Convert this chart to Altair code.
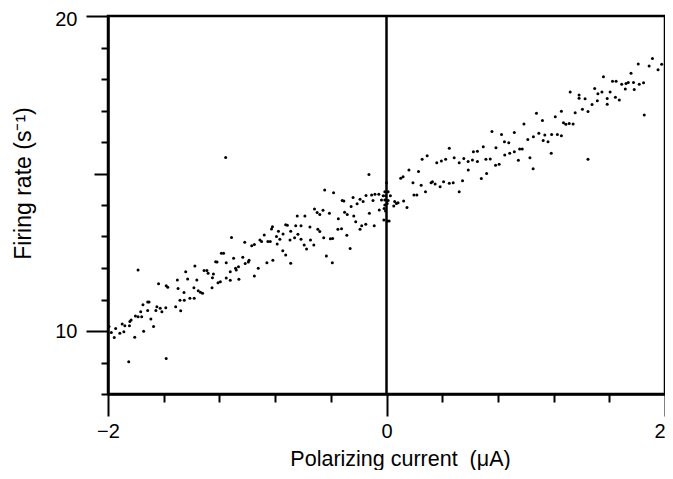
import altair as alt
import pandas as pd

# Polarizing current (uA) and firing rate (1/s)
current = [
    -1.376, -1.310, -1.290, -1.281, -1.250, -1.243, -1.784, -1.442, -1.637, -1.582,
    -1.571, -1.502, -1.428, -1.362, -1.497, -1.383, -1.454, -1.352, -1.336, -1.321,
    -1.253, -1.412, -1.381, -1.483, -1.452, -1.715, -1.705, -1.749, -1.649, -1.656,
    -1.625, -1.613, -1.585, -1.514, -1.478, -1.765, -1.715, -1.803, -1.784, -1.758,
    -1.692, -1.834, -1.843, -1.898, -1.879, -1.846, -1.673, -1.993, -1.945, -1.886,
    -1.915, -1.976, -1.955, -1.808, -1.744, -1.851, -1.582,
    -0.641, -0.586, -0.724, -0.712, -0.652, -0.614, -0.819, -0.826, -0.776, -0.688,
    -0.743, -0.636, -0.878, -0.790, -0.766, -0.660, -0.614, -0.693, -1.113, -0.909,
    -0.897, -0.852, -0.835, -0.785, -0.591, -1.018, -0.968, -0.949, -0.745, -0.724,
    -0.574, -1.186, -1.170, -1.032, -1.098, -1.151, -1.227, -1.217, -0.987, -0.992,
    -1.015, -0.688, -0.816, -0.859, -1.063, -1.084, -1.079, -1.122, -0.921, -0.949,
    -1.151, -1.122, -1.060, -1.193, -1.210,
    -0.126, -0.444, -0.380, -0.318, -0.306, -0.240, -0.190, -0.147, -0.107, -0.083,
    -0.055, -0.168, -0.211, -0.254, -0.097, -0.517, -0.456, -0.498, -0.479, -0.410,
    -0.301, -0.282, -0.123, -0.235, -0.052, -0.346, -0.221, -0.149, -0.178, -0.190,
    -0.088, -0.550, -0.493, -0.479, -0.349, -0.323, -0.285, -0.451, -0.403, -0.387,
    -0.546, -0.522, -0.261, -0.432, -0.389, -1.155,
    0.000, -0.012, 0.012, -0.024, -0.007, 0.028, -0.036, -0.012, 0.012, -0.012,
    -0.017, -0.007, -0.019, 0.005, 0.019, 0.005, 0.059, 0.071, 0.083, 0.052,
    0.123, 0.147, 0.102, 0.119, 0.161, 0.190, 0.197, 0.218, 0.230, 0.249,
    0.256, 0.280, 0.292, 0.320, 0.330, 0.349, 0.361, 0.385, 0.394, 0.410,
    0.425, 0.451, 0.451, 0.479, 0.486, 0.522, 0.522, 0.546, 0.555,
    0.586, 0.587, 0.617, 0.624, 0.653, 0.653, 0.681, 0.695, 0.714, 0.719,
    0.745, 0.757, 0.783, 0.786, 0.809, 0.826, 0.847, 0.849, 0.878, 0.885,
    0.918, 0.918, 0.947, 0.956, 0.975, 1.030, 1.053, 1.183,
    1.910, 1.808, 1.886, 1.976, 1.950, 1.558, 1.756, 1.623, 1.649, 1.689,
    1.720, 1.736, 1.774, 1.815, 1.846, 1.715, 1.779, 1.319, 1.495, 1.518,
    1.547, 1.606, 1.383, 1.383, 1.426, 1.514, 1.585, 1.644, 1.672, 1.585,
    1.476, 1.447, 1.407, 1.355, 1.256, 1.212, 1.851, 1.077, 1.120, 1.271,
    1.288, 1.312, 1.340, 0.987, 1.094, 1.137, 1.160, 1.125, 1.186, 1.227,
    1.256, 1.055, 1.015, 1.447,
]
rate = [
    12.06, 11.92, 11.92, 11.83, 11.69, 11.81, 11.94, 11.88, 11.50, 11.44,
    11.39, 11.62, 11.65, 11.62, 11.35, 11.37, 11.22, 11.28, 11.23, 11.20,
    11.37, 11.04, 11.04, 10.98, 10.98, 10.92, 10.92, 10.83, 10.77, 10.65,
    10.72, 10.61, 10.74, 10.77, 10.64, 10.61, 10.65, 10.48, 10.45, 10.45,
    10.38, 10.35, 10.30, 10.22, 10.17, 10.17, 10.14, 10.14, 10.08, 9.98,
    9.93, 9.95, 9.79, 9.80, 9.99, 9.02, 9.13,
    13.65, 13.65, 13.37, 13.36, 13.34, 13.34, 13.31, 13.24, 13.17, 13.17,
    13.08, 13.07, 13.05, 13.00, 12.91, 12.96, 12.91, 12.89, 12.97, 12.89,
    12.84, 12.84, 12.84, 12.76, 12.73, 12.82, 12.71, 12.75, 12.55, 12.41,
    12.60, 12.47, 12.47, 12.34, 12.31, 12.17, 12.20, 12.19, 12.25, 12.19,
    12.14, 12.15, 12.25, 12.17, 12.04, 11.99, 11.94, 11.88, 11.99, 11.75,
    11.68, 11.61, 11.64, 11.56, 11.53,
    14.97, 14.48, 14.39, 14.14, 14.13, 14.24, 14.18, 14.30, 14.32, 14.34,
    14.34, 14.11, 14.04, 13.95, 14.14, 13.87, 13.83, 13.76, 13.70, 13.74,
    13.77, 13.70, 13.74, 13.65, 13.84, 13.56, 13.47, 13.39, 13.34, 13.23,
    13.34, 13.30, 13.23, 13.16, 13.23, 13.25, 13.04, 12.96, 12.93, 12.94,
    12.89, 12.73, 12.62, 12.38, 12.17, 15.51,
    14.71, 14.42, 14.42, 14.29, 14.29, 14.29, 14.16, 14.16, 14.14, 14.00,
    13.89, 13.81, 13.52, 13.49, 13.49, 14.05, 14.11, 14.05, 14.07, 13.97,
    14.13, 13.92, 14.85, 14.90, 15.11, 14.71, 14.32, 14.32, 15.06, 14.63,
    15.45, 14.42, 15.56, 14.71, 14.74, 14.67, 15.34, 14.58, 15.40, 14.74,
    15.45, 15.80, 14.69, 14.71, 15.50, 15.34, 14.42, 14.77, 15.48,
    15.38, 15.11, 15.43, 15.69, 15.71, 15.38, 14.84, 15.85, 15.45, 15.00,
    15.46, 16.33, 15.26, 15.82, 15.29, 16.24, 16.01, 15.59, 15.98, 15.64,
    16.30, 15.69, 15.42, 15.78, 15.78, 15.50, 15.15, 15.64,
    18.65, 18.48, 18.41, 18.47, 18.29, 18.07, 18.18, 17.93, 17.93, 17.83,
    17.86, 17.89, 17.89, 17.83, 17.88, 17.68, 17.67, 17.59, 17.70, 17.53,
    17.59, 17.59, 17.49, 17.39, 17.37, 17.31, 17.38, 17.42, 17.33, 17.20,
    17.19, 16.97, 17.04, 16.93, 16.98, 16.80, 16.86, 16.91, 16.68, 16.61,
    16.56, 16.59, 16.57, 16.57, 16.28, 16.22, 16.01, 16.05, 16.24, 16.24,
    16.20, 16.17, 16.08, 15.45,
]

x_tick_values = [round(-2 + 0.1 * i, 1) for i in range(41)]
y_tick_values = list(range(8, 21))
zero_line = [0]

df = pd.DataFrame({"current": current, "rate": rate})
zdf = pd.DataFrame({"current": zero_line})

FONT = "Liberation Sans"

x_scale = alt.Scale(domain=[-2, 2], nice=False, zero=False)
y_scale = alt.Scale(domain=[8, 20], nice=False, zero=False)

x_axis = alt.Axis(
    values=x_tick_values,
    format=".0f",
    title="Polarizing current\u00a0 (\u03bcA)",
    labelExpr="abs(datum.value - round(datum.value)) < 0.01 ? datum.label : ''",
    labelOverlap=False,
    labelFlush=False,
    labelAlign={"condition": {"test": "datum.value > 1.99", "value": "right"}, "value": "center"},
    labelFont=FONT,
    labelFontSize=20,
    labelColor="black",
    labelPadding=5,
    grid=False,
    domainColor="black",
    domainWidth=2.5,
    tickColor="black",
    tickWidth=2,
    tickSize={
        "condition": [
            {"test": "abs(datum.value - round(datum.value)) < 0.01", "value": 22},
            {"test": "abs(datum.value * 2 - round(datum.value * 2)) < 0.01", "value": 15},
        ],
        "value": 8,
    },
    titleFont=FONT,
    titleFontSize=21.5,
    titleFontWeight="normal",
    titleColor="black",
    titleAlign="center",
    titleBaseline="alphabetic",
    titleX=292,
    titleY=71,
)

y_axis = alt.Axis(
    values=y_tick_values,
    format=".0f",
    title="Firing rate (s\u207b\u00b9)",
    labelExpr="datum.value % 10 === 0 ? datum.label : ''",
    labelOverlap=False,
    labelFlush=False,
    labelFont=FONT,
    labelFontSize=20,
    labelColor="black",
    labelPadding=9,
    labelOffset={"condition": {"test": "datum.value === 20", "value": 3.5}, "value": 0},
    grid=False,
    domainColor="black",
    domainWidth=2.5,
    tickColor="black",
    tickWidth=2,
    tickSize={
        "condition": [
            {"test": "datum.value % 10 === 0", "value": 22},
            {"test": "datum.value === 15", "value": 14},
        ],
        "value": 7,
    },
    titleFont=FONT,
    titleFontSize=23,
    titleFontWeight="normal",
    titleColor="black",
    titleAngle=270,
    titleAlign="center",
    titleBaseline="alphabetic",
    titleX=-78,
    titleY=167,
)

points = alt.Chart(df).mark_circle(size=9, color="black", opacity=1).encode(
    x=alt.X("current:Q", scale=x_scale, axis=x_axis),
    y=alt.Y("rate:Q", scale=y_scale, axis=y_axis),
)

zero_rule = alt.Chart(zdf).mark_rule(color="black", strokeWidth=2.5).encode(
    x=alt.X("current:Q", scale=x_scale),
)

chart = (
    alt.layer(zero_rule, points)
    .properties(
        width=557,
        height=378,
        autosize=alt.AutoSizeParams(type="none"),
        padding={"left": 100, "top": 8, "right": 0, "bottom": 76},
        background="white",
    )
    .configure_view(stroke="black", strokeWidth=2.5)
)

chart.save("out.html", embed_options={"renderer": "svg", "actions": False})
